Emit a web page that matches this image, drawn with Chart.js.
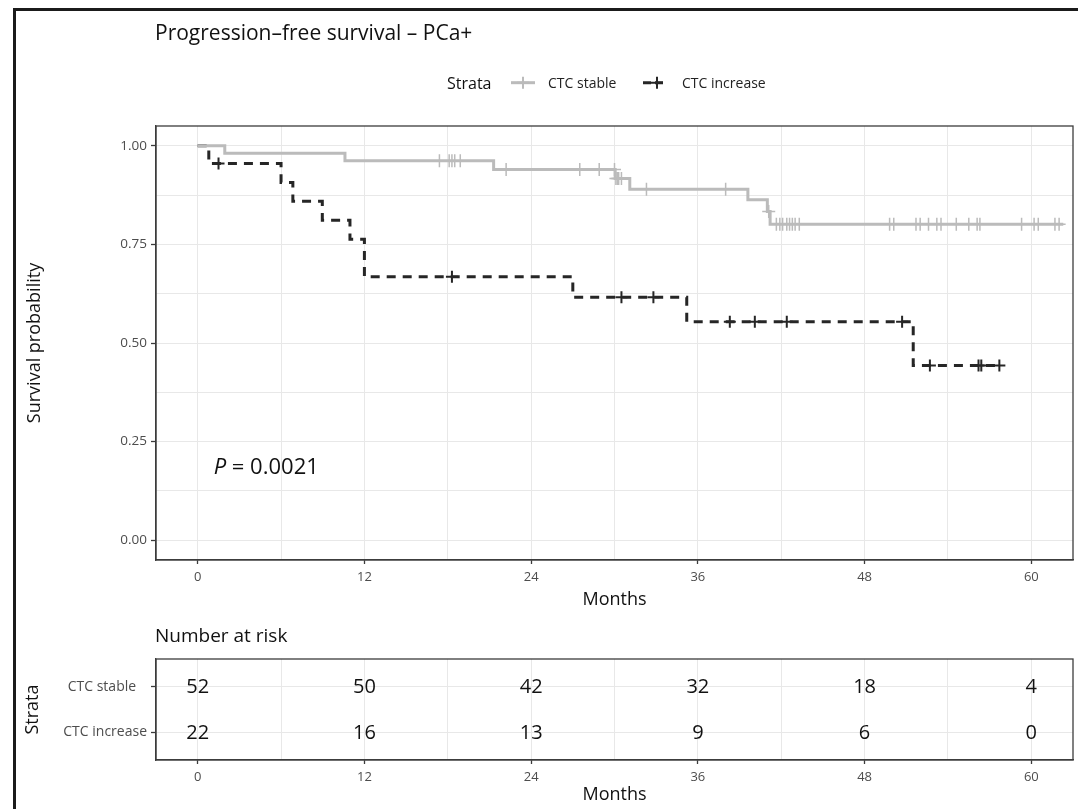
<!DOCTYPE html>
<html>
<head>
<meta charset="utf-8">
<title>Progression-free survival - PCa+</title>
<script src="https://cdn.jsdelivr.net/npm/chart.js@4.4.1/dist/chart.umd.min.js"></script>
<style>
  html, body { margin: 0; padding: 0; background: #fff; }
  body { width: 1078px; height: 809px; position: relative; overflow: hidden; }
  #frame { position: absolute; left: 13px; top: 8px; right: 0; bottom: 0; border-left: 3px solid #1b1b1b; border-top: 3px solid #1b1b1b; }
  #survChart { position: absolute; left: 0; top: 0; }
  #riskChart { position: absolute; left: 0; top: 614px; }
</style>
</head>
<body>
<div id="frame"></div>
<canvas id="survChart" width="1078" height="614"></canvas>
<canvas id="riskChart" width="1078" height="195"></canvas>
<script>
const FONT = '"Open Sans", "Noto Sans", sans-serif';

// Kaplan-Meier steps (months, survival probability)
const stableTimes = [0, 1.95, 10.6, 21.3, 30.05, 31.1, 39.6, 41.0, 41.2, 62.3];
const stableSurv = [1.0, 0.981, 0.962, 0.940, 0.917, 0.890, 0.863, 0.833, 0.801, 0.801];
const stableCensored = [17.4, 18.1, 18.3, 18.5, 18.9, 22.2, 27.5, 28.9, 30.0, 30.1, 30.2, 30.3, 30.5,
  32.3, 38.0, 41.1, 41.65, 41.9, 42.1, 42.4, 42.6, 42.8, 43.0, 43.3, 49.8, 50.1, 51.7, 52.0, 52.6,
  53.2, 53.5, 54.6, 55.5, 56.1, 56.3, 59.3, 60.2, 60.5, 61.7, 62.0];

const increaseTimes = [0, 0.8, 6.0, 6.85, 8.97, 10.96, 12.0, 27.0, 35.2, 51.5, 57.7];
const increaseSurv = [1.0, 0.955, 0.907, 0.859, 0.811, 0.763, 0.668, 0.616, 0.554, 0.443, 0.443];
const increaseCensored = [1.5, 18.3, 30.5, 32.8, 38.3, 40.1, 42.4, 50.7, 52.7, 56.2, 56.4, 57.7];

// number at risk table
const riskTimes = [0, 12, 24, 36, 48, 60];
const riskStable = [52, 50, 42, 32, 18, 4];
const riskIncrease = [22, 16, 13, 9, 6, 0];

const strataNames = ['CTC stable', 'CTC increase'];
const monthTicks = [0, 6, 12, 18, 24, 30, 36, 42, 48, 54, 60];
const probTicks = [0, 0.125, 0.25, 0.375, 0.5, 0.625, 0.75, 0.875, 1];

const titleText = 'Progression–free survival – PCa+';
const pText = '0.0021';

const greyCol = '#bbbbbb';
const darkCol = '#262626';
const gridCol = '#e8e8e8';
const axisCol = '#3c3c3c';
const tickTextCol = '#4d4d4d';

Chart.defaults.font.family = FONT;

// survival level of a step curve at time t (for placing censor marks on the line)
function levelAt(times, surv, t) {
  let s = surv[0];
  for (let i = 0; i < times.length; i++) {
    if (times[i] <= t) s = surv[i];
  }
  return s;
}

function majorOnly(step) {
  return (ctx) => {
    const v = ctx.tick ? ctx.tick.value / step : 0.5;
    return Math.abs(v - Math.round(v)) < 1e-9 ? axisCol : 'rgba(0,0,0,0)';
  };
}

function monthAxis(height) {
  return {
    type: 'linear',
    min: -3,
    max: 63,
    afterBuildTicks: (s) => { s.ticks = monthTicks.map((v) => ({ value: v })); },
    afterFit: (s) => { s.height = height; },
    grid: { color: gridCol, lineWidth: 1, tickLength: 4, tickWidth: 1.3, tickColor: majorOnly(12) },
    border: { display: true, color: axisCol, width: 1.3 },
    ticks: {
      autoSkip: false, maxRotation: 0, padding: 5, color: tickTextCol,
      font: { size: 13 },
      callback: (v) => (v % 12 === 0 ? String(v) : '')
    },
    title: { display: true, text: 'Months', color: '#111', font: { size: 18 }, padding: { top: 0, bottom: 3 } }
  };
}

function crossKey(ctx, x1, x2, cx, y, color, dash) {
  ctx.save();
  ctx.strokeStyle = color;
  ctx.lineWidth = 3;
  ctx.setLineDash(dash);
  ctx.beginPath(); ctx.moveTo(x1, y); ctx.lineTo(x2, y); ctx.stroke();
  ctx.setLineDash([]);
  ctx.lineWidth = 2;
  ctx.beginPath();
  ctx.moveTo(cx, y - 6); ctx.lineTo(cx, y + 6);
  ctx.moveTo(cx - 6, y); ctx.lineTo(cx + 6, y);
  ctx.stroke();
  ctx.restore();
}

const survDecor = {
  id: 'survDecor',
  afterDraw(chart) {
    const { ctx, chartArea: a, scales } = chart;
    ctx.save();
    ctx.strokeStyle = axisCol;
    ctx.lineWidth = 1.3;
    ctx.strokeRect(a.left, a.top, a.right - a.left, a.bottom - a.top);

    ctx.fillStyle = '#111';
    ctx.textAlign = 'left';
    ctx.textBaseline = 'alphabetic';
    ctx.font = '21px ' + FONT;
    ctx.fillText(titleText, 155, 40);

    // legend
    ctx.font = '16px ' + FONT;
    ctx.fillText('Strata', 447, 88.5);
    crossKey(ctx, 511, 535, 523, 82.7, greyCol, []);
    ctx.fillStyle = '#222';
    ctx.font = '14px ' + FONT;
    ctx.fillText(strataNames[0], 548, 87.7);
    crossKey(ctx, 643, 667, 657, 82.7, darkCol, [8, 4]);
    ctx.fillText(strataNames[1], 682, 87.7);

    // p-value
    const px = scales.x.getPixelForValue(1.15);
    const py = scales.y.getPixelForValue(0.186) + 7.5;
    ctx.fillStyle = '#111';
    ctx.font = 'italic 22px ' + FONT;
    ctx.fillText('P', px, py);
    const pw = ctx.measureText('P').width;
    ctx.font = '22px ' + FONT;
    ctx.fillText(' = ' + pText, px + pw, py);
    ctx.restore();
  }
};

new Chart(document.getElementById('survChart'), {
  type: 'line',
  data: {
    datasets: [
      {
        label: strataNames[0],
        data: stableTimes.map((t, i) => ({ x: t, y: stableSurv[i] })),
        borderColor: greyCol,
        borderWidth: 3,
        stepped: true,
        pointRadius: 0,
        fill: false
      },
      {
        label: strataNames[1],
        data: increaseTimes.map((t, i) => ({ x: t, y: increaseSurv[i] })),
        borderColor: darkCol,
        borderWidth: 3,
        borderDash: [9, 7],
        stepped: true,
        pointRadius: 0,
        fill: false
      },
      {
        type: 'scatter',
        label: strataNames[0] + ' censored',
        data: stableCensored.map((t) => ({ x: t, y: levelAt(stableTimes, stableSurv, t) })),
        pointStyle: 'cross',
        pointRadius: 6.5,
        pointBorderWidth: 1.5,
        borderColor: greyCol,
        backgroundColor: greyCol
      },
      {
        type: 'scatter',
        label: strataNames[1] + ' censored',
        data: increaseCensored.map((t) => ({ x: t, y: levelAt(increaseTimes, increaseSurv, t) })),
        pointStyle: 'cross',
        pointRadius: 6,
        pointBorderWidth: 2,
        borderColor: darkCol,
        backgroundColor: darkCol
      }
    ]
  },
  options: {
    responsive: false,
    animation: false,
    devicePixelRatio: 1,
    layout: { autoPadding: false, padding: { top: 126, right: 5, bottom: 0, left: 0 } },
    plugins: { legend: { display: false }, title: { display: false }, tooltip: { enabled: false } },
    scales: {
      x: monthAxis(54),
      y: {
        type: 'linear',
        min: -0.05,
        max: 1.05,
        afterBuildTicks: (s) => { s.ticks = probTicks.map((v) => ({ value: v })); },
        afterFit: (s) => { s.width = 156; },
        grid: { color: gridCol, lineWidth: 1, tickLength: 5, tickWidth: 1.3, tickColor: majorOnly(0.25) },
        border: { display: true, color: axisCol, width: 1.3 },
        ticks: {
          autoSkip: false, padding: 4, color: tickTextCol,
          font: { size: 13.5 },
          callback: (v) => ((v * 4) % 1 === 0 ? v.toFixed(2) : '')
        },
        title: { display: true, text: 'Survival probability', color: '#111', font: { size: 18 }, padding: { top: 24, bottom: 0 } }
      }
    }
  },
  plugins: [survDecor]
});

const riskDecor = {
  id: 'riskDecor',
  afterDraw(chart) {
    const { ctx, chartArea: a } = chart;
    ctx.save();
    ctx.strokeStyle = axisCol;
    ctx.lineWidth = 1.3;
    ctx.strokeRect(a.left, a.top, a.right - a.left, a.bottom - a.top);

    ctx.fillStyle = '#111';
    ctx.textAlign = 'left';
    ctx.textBaseline = 'alphabetic';
    ctx.font = '19px ' + FONT;
    ctx.fillText('Number at risk', 155, 28);

    ctx.font = '20px ' + FONT;
    ctx.textAlign = 'center';
    ctx.textBaseline = 'middle';
    chart.data.datasets.forEach((ds, i) => {
      chart.getDatasetMeta(i).data.forEach((pt, j) => {
        ctx.fillText(String(ds.data[j].n), pt.x, pt.y + 1);
      });
    });
    ctx.restore();
  }
};

new Chart(document.getElementById('riskChart'), {
  type: 'scatter',
  data: {
    datasets: [
      {
        label: strataNames[0],
        data: riskTimes.map((t, i) => ({ x: t, y: 1, n: riskStable[i] })),
        pointRadius: 0
      },
      {
        label: strataNames[1],
        data: riskTimes.map((t, i) => ({ x: t, y: 0, n: riskIncrease[i] })),
        pointRadius: 0
      }
    ]
  },
  options: {
    responsive: false,
    animation: false,
    devicePixelRatio: 1,
    layout: { autoPadding: false, padding: { top: 45, right: 5, bottom: 0, left: 0 } },
    plugins: { legend: { display: false }, title: { display: false }, tooltip: { enabled: false } },
    scales: {
      x: monthAxis(49),
      y: {
        type: 'linear',
        min: -0.6,
        max: 1.6,
        afterBuildTicks: (s) => { s.ticks = [{ value: 0 }, { value: 1 }]; },
        afterFit: (s) => { s.width = 156; },
        grid: { color: gridCol, lineWidth: 1, tickLength: 5, tickWidth: 1.3, tickColor: axisCol },
        border: { display: true, color: axisCol, width: 1.3 },
        ticks: {
          autoSkip: false, padding: 4, color: tickTextCol,
          font: { size: 14 },
          callback: (v) => (v === 1 ? strataNames[0] + '   ' : strataNames[1])
        },
        title: { display: true, text: 'Strata', color: '#111', font: { size: 18 }, padding: { top: 22, bottom: 0 } }
      }
    }
  },
  plugins: [riskDecor]
});
</script>
</body>
</html>
